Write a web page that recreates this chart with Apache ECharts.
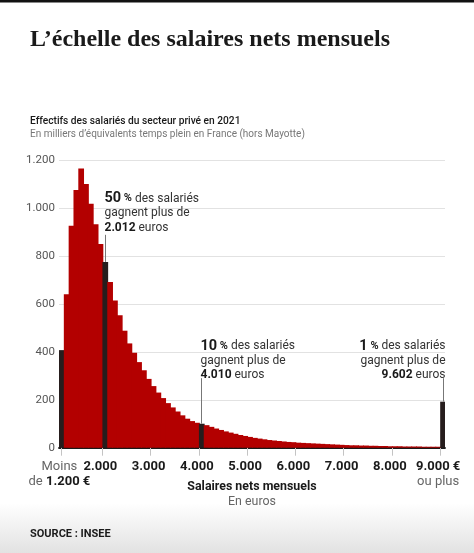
<!DOCTYPE html>
<html><head><meta charset="utf-8">
<script src="https://cdn.jsdelivr.net/npm/echarts@6/dist/echarts.min.js"></script>
<style>html,body{margin:0;padding:0;background:#fff}#c{width:474px;height:553px}</style>
</head><body><div id="c"></div>
<script>
// ---- DATA ----
const categories = ['<1200','1200','1300','1400','1500','1600','1700','1800','1900','2000',
 '2100','2200','2300','2400','2500','2600','2700','2800','2900','3000',
 '3100','3200','3300','3400','3500','3600','3700','3800','3900','4000',
 '4100','4200','4300','4400','4500','4600','4700','4800','4900','5000',
 '5100','5200','5300','5400','5500','5600','5700','5800','5900','6000',
 '6100','6200','6300','6400','6500','6600','6700','6800','6900','7000',
 '7100','7200','7300','7400','7500','7600','7700','7800','7900','8000',
 '8100','8200','8300','8400','8500','8600','8700','8800','8900','>=9000'];
const values = [407,640,926,1075,1165,1100,1017,932,850,775,
 691,614,552,488,435,396,357,323,287,257,
 230,207,186,168,151,135,121,111,104,100,
 94,87,80,74,68,63,58,53,49,45,
 41,38,35,32,30,28,26,24,23,21,
 20,19,18,17,16,15,14,13,12,11,
 10,10,9,9,8,8,7,7,6,6,
 6,5,5,5,5,4,4,4,4,192];
const highlighted = ['<1200','2000','4000','>=9000'];
const xTickValues = [1150,2000,3000,4000,5000,6000,7000,8000,9000];
const xTickLabels = ['{g|Moins}\n{g|de }{b|1.200 €}','{b|2.000}','{b|3.000}','{b|4.000}','{b|5.000}','{b|6.000}','{b|7.000}','{b|8.000}','{b|9.000 €}\n{g|ou plus}'];
const annotations = [
  {bin:'2000', pct:'50', amount:'2.012'},
  {bin:'4000', pct:'10', amount:'4.010'},
  {bin:'>=9000', pct:'1', amount:'9.602'}
];

// ---- LAYOUT ----
const SANS = 'Roboto, "Liberation Sans", sans-serif';
const RED = '#b30000', DARK = '#261d1d';
const binLo = categories.map((c,i)=>1100+100*i); // axis position of each bin (100 € wide)
const annLayout = [
  {lineTopValue: 888, align:'left', dx:-1, textGap:0},
  {lineTopValue: 290, align:'left', dx:-1, textGap:4.5},
  {lineTopValue: 290, align:'right', dx:2, textGap:4.5}
];
function fmtNum(v){ return String(v).replace(/\B(?=(\d{3})+(?!\d))/g,'.'); }

const chart = echarts.init(document.getElementById('c'), null, {renderer:'canvas'});
const barData = categories.map((c,i)=>({value:[binLo[i], binLo[i]+100, values[i]]}));

const option = {
  backgroundColor:'#fff',
  animation:false,
  textStyle:{fontFamily:SANS},
  grid:{left:59, right:29, top:160, bottom:105.3, containLabel:false},
  xAxis:{
    type:'value', min:1100, max:9100,
    axisLine:{show:true, onZero:false, lineStyle:{color:'#1a1a1a', width:1.8}},
    axisTick:{show:true, customValues:xTickValues, length:8, lineStyle:{color:'#c4c4c4', width:1}},
    splitLine:{show:false},
    axisLabel:{show:false},
    name:'{t|Salaires nets mensuels}\n{s|En euros}',
    nameLocation:'middle', nameGap:32, nameMoveOverlap:false,
    nameTextStyle:{rich:{
      t:{fontFamily:SANS, fontWeight:'bold', fontSize:12.4, color:'#1a1a1a', lineHeight:14.5, align:'center'},
      s:{fontFamily:SANS, fontSize:12.4, color:'#666', lineHeight:14.5, align:'center'}
    }}
  },
  yAxis:{
    type:'value', min:0, max:1200, interval:200,
    axisLine:{show:false}, axisTick:{show:false},
    axisLabel:{margin:4, color:'#555', fontSize:11.5, fontFamily:SANS, showMinLabel:true, formatter:(v)=>fmtNum(v)},
    splitLine:{lineStyle:{color:'#e2e2e2', width:1}}
  },
  series:[{
    type:'custom',
    encode:{x:[0,1], y:2},
    data:barData,
    renderItem:(params, api)=>{
      const p0 = api.coord([api.value(0), api.value(2)]);
      const p1 = api.coord([api.value(1), 0]);
      const cat = categories[params.dataIndex];
      const col = highlighted.indexOf(cat) >= 0 ? DARK : RED;
      const last = params.dataIndex === categories.length - 1;
      return {type:'rect', shape:{x:p0[0], y:p0[1], width:p1[0]-p0[0] + (last?0:0.9), height:p1[1]-p0[1]},
        style:{fill:col}};
    },
    z:3
  }]
};
chart.setOption(option);

// ---- graphics (titles, tick labels, annotations) ----
const g = [
  {type:'rect', shape:{x:0,y:0,width:474,height:2.5}, style:{fill:'#111'}},
  {type:'rect', shape:{x:0,y:503,width:474,height:50}, z:-10,
    style:{fill:new echarts.graphic.LinearGradient(0,0,0,1,[{offset:0,color:'#ffffff'},{offset:1,color:'#e2e2e2'}])}},
  {type:'text', x:30, y:52, style:{text:'L’échelle des salaires nets mensuels', fontFamily:'"Liberation Serif", serif', fontWeight:'bold', fontSize:24, fill:'#1a1a1a', verticalAlign:'bottom'}},
  {type:'text', x:30, y:121, style:{text:'Effectifs des salariés du secteur privé en 2021', fontFamily:SANS, fontWeight:500, fontSize:10.2, fill:'#1a1a1a', verticalAlign:'middle'}},
  {type:'text', x:30, y:134.5, style:{text:'En milliers d’équivalents temps plein en France (hors Mayotte)', fontFamily:SANS, fontSize:10, fill:'#777', verticalAlign:'middle'}},
  {type:'text', x:30, y:534, style:{text:'SOURCE : INSEE', fontFamily:SANS, fontWeight:'bold', fontSize:11, fill:'#1a1a1a', verticalAlign:'middle'}}
];
// x tick labels (placed through the axis scale)
xTickValues.forEach((v, k)=>{
  const p = chart.convertToPixel({gridIndex:0}, [v, 0]);
  g.push({type:'text', x:p[0]-2, y:p[1]+11.5, z:5, style:{
    text:xTickLabels[k], align:'center', verticalAlign:'top',
    rich:{
      b:{fontFamily:SANS, fontWeight:'bold', fontSize:13, fill:'#1a1a1a', lineHeight:15},
      g:{fontFamily:SANS, fontSize:13, fill:'#666', lineHeight:15}
    }}});
});
annotations.forEach((a, k)=>{
  const i = categories.indexOf(a.bin);
  const cx = binLo[i] + 50;
  const L = annLayout[k];
  const pBar = chart.convertToPixel({gridIndex:0}, [cx, values[i]]);
  const pTop = chart.convertToPixel({gridIndex:0}, [cx, L.lineTopValue]);
  const x = Math.round(pBar[0]) + 0.5;
  g.push({type:'line', shape:{x1:x, y1:pTop[1], x2:x, y2:pBar[1]}, style:{stroke:'#777', lineWidth:1}, z:5});
  g.push({type:'text', x:x + L.dx, y:pTop[1] + L.textGap, z:5, style:{
    text:'{p|'+a.pct+'}{pc| %}{r| des salariés}\n{r|gagnent plus de}\n{b|'+a.amount+'}{r| euros}',
    align:L.align, verticalAlign:'bottom',
    rich:{
      p:{fontFamily:SANS, fontWeight:'bold', fontSize:14.5, fill:'#1a1a1a', lineHeight:14.5},
      pc:{fontFamily:SANS, fontWeight:'bold', fontSize:11, fill:'#1a1a1a', lineHeight:14.5},
      r:{fontFamily:SANS, fontSize:12, fill:'#333', lineHeight:14.5},
      b:{fontFamily:SANS, fontWeight:'bold', fontSize:12, fill:'#1a1a1a', lineHeight:14.5}
    }}});
});
chart.setOption({graphic:g});
</script>
</body></html>
